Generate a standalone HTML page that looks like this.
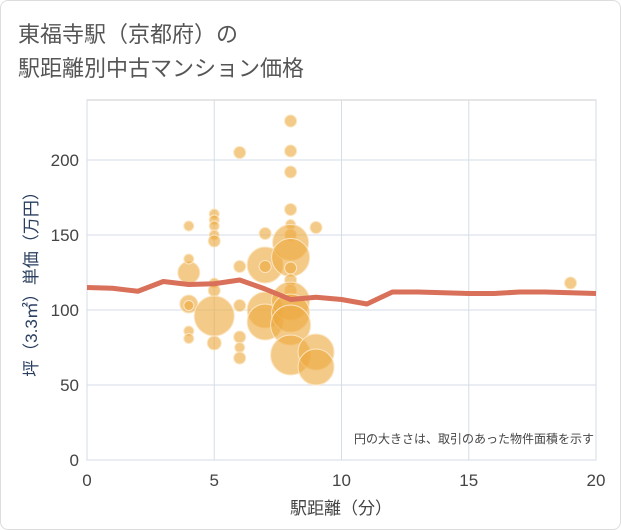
<!DOCTYPE html>
<html><head><meta charset="utf-8"><style>
body{margin:0;background:#fff;font-family:"Liberation Sans","Noto Sans CJK JP",sans-serif;}
#wrap{position:relative;width:619px;height:528px;border:1px solid #ddd;border-radius:8px;overflow:hidden;}
</style></head><body>
<div id="wrap">
<svg id="chart" width="621" height="530" style="position:absolute;left:-1px;top:-1px">
<text x="18" y="42" font-size="22" fill="#555" font-family="Liberation Sans, Noto Sans CJK JP, sans-serif">東福寺駅（京都府）の</text>
<text x="18" y="76" font-size="22" fill="#555" font-family="Liberation Sans, Noto Sans CJK JP, sans-serif">駅距離別中古マンション価格</text>
<rect x="87" y="100" width="509" height="360" fill="#fff" stroke="#ccc"/>
<g id="grid"></g><g id="bubbles"></g><g id="line"></g><g id="axes"></g>
<text x="594" y="443" font-size="12" fill="#444" text-anchor="end" font-family="Liberation Sans, Noto Sans CJK JP, sans-serif">円の大きさは、取引のあった物件面積を示す</text>
<text x="341" y="514" font-size="17" fill="#444" text-anchor="middle" font-family="Liberation Sans, Noto Sans CJK JP, sans-serif">駅距離（分）</text>
<text transform="translate(37,280) rotate(-90)" font-size="17" fill="#2a3f5f" text-anchor="middle" font-family="Liberation Sans, Noto Sans CJK JP, sans-serif">坪（3.3㎡）単価（万円）</text>
</svg></div>
<script>
const xTicks=[0,5,10,15,20];
const yTicks=[0,50,100,150,200];
const bubX=[4,4,4,4,4,4,4,5,5,5,5,5,5,5,5,5,6,6,6,6,6,6,7,7,7,7,7,8,8,8,8,8,8,8,8,8,8,8,8,8,8,8,9,9,9,19];
const bubY=[156,125,134,104,103,86,81,164,160,156,150,146,118,113,96,78,205,129,103,82,75,68,151,130,129,100,92,226,206,192,167,157,150,145,135,128,120,113,106,98,90,70,155,72,62,118];
const bubR=[5,11,5,9,5,5,5,5,5,5,5,6,5,6,20,7,6,6,6,6,5,6,6,18,6,18,18,6,6,6,6,5,6,18,19,6,6,6,19,19,20,20,6,18,18,6];
const lineX=[0,1,2,3,4,5,6,7,8,9,10,11,12,13,14,15,16,17,18,19,20];
const lineY=[115,114.5,112.5,119,117,117.5,120,114,107,108.5,107,104,112,112,111.5,111,111,112,112,111.5,111];
const X=v=>87+v*25.45, Y=v=>460-v*1.5;
const NS='http://www.w3.org/2000/svg';
function mk(t,a,p){const e=document.createElementNS(NS,t);for(const k in a)e.setAttribute(k,a[k]);document.getElementById(p).appendChild(e);return e;}
xTicks.forEach(t=>{
 const l=mk('line',{x1:X(t),x2:X(t),y1:100,y2:460,stroke:'#d5dde8'},'grid');
 
 
 const s=mk('text',{x:X(t),y:486,'font-size':17,fill:'#444','text-anchor':'middle'},'axes');s.textContent=t;
 
 
});
yTicks.forEach(t=>{
 const l=mk('line',{x1:87,x2:596,y1:Y(t),y2:Y(t),stroke:'#d5dde8'},'grid');
 
 
 const s=mk('text',{x:79,y:Y(t)+6,'font-size':17,fill:'#444','text-anchor':'end'},'axes');s.textContent=t;
 
 
});
bubX.forEach((x,i)=>{
 const c=mk('circle',{cx:X(x),cy:Y(bubY[i]),r:bubR[i],fill:'#eea940','fill-opacity':0.62,stroke:'#fbe6c2','stroke-width':1},'bubbles');
 
 
});
const p=mk('polyline',{points:lineX.map((x,i)=>X(x)+','+Y(lineY[i])).join(' '),fill:'none',stroke:'#d9705a','stroke-width':5,'stroke-linejoin':'round'},'line');


</script>
</body></html>
